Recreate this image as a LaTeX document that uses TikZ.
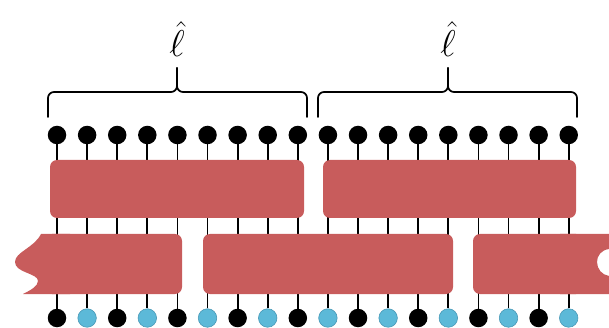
\documentclass[tikz,border=0pt]{standalone}
\definecolor{gatered}{RGB}{200,92,92}
\definecolor{qblue}{RGB}{92,185,216}
\definecolor{qblueedge}{RGB}{72,152,182}
\begin{document}
\begin{tikzpicture}[x=1pt,y=-1pt,
  site/.style={circle,fill=black,inner sep=0pt,minimum size=18.5pt},
  ancilla/.style={site,fill=qblue,draw=qblueedge,line width=0.6pt},
  gatebox/.style={rectangle,fill=gatered,rounded corners=7pt,inner sep=0pt},
  gatefill/.style={fill=gatered},
  leg/.style={line width=1.8pt,black},
  bracepath/.style={line width=1.7pt,rounded corners=6pt,line cap=round},
  hatlabel/.style={font=\Huge,scale=1.5,anchor=base,inner sep=0pt}]
\useasboundingbox (0,0) rectangle (609,328);

% physical sites (top) and bottom sites, alternating black / blue
\foreach \i in {0,...,17}{
  \pgfmathsetmacro{\xx}{57+30.1*\i}
  \node[site] (t\i) at (\xx,135) {};
  \ifodd\i
    \node[ancilla] (b\i) at (\xx,318) {};
  \else
    \node[site] (b\i) at (\xx,318) {};
  \fi
}

% legs running from each top site to the bottom site below it
\foreach \i in {0,...,17}{
  \draw[leg] (t\i) -- (b\i);
}

% upper layer of gates
\node[gatebox,minimum width=254pt,minimum height=58pt] (gu1) at (177,189) {};
\node[gatebox,minimum width=253pt,minimum height=58pt] (gu2) at (449.5,189) {};

% lower layer of gates
\node[gatebox,minimum width=137pt,minimum height=60pt] (gl1) at (113.5,264) {};
\fill[gatefill] (41,234) -- (70,234) -- (70,294) -- (23,294)
  .. controls (31,290) and (38,286) .. (38,281)
  .. controls (38,273) and (15,273) .. (15,262)
  .. controls (15,252) and (34,248) .. (41,234) -- cycle;
\node[gatebox,minimum width=250pt,minimum height=60pt] (gl2) at (328,264) {};
\node[gatebox,minimum width=110pt,minimum height=60pt] (gl3) at (528,264) {};
\fill[gatefill] (560,234) -- (616,234) -- (616,249) -- (609,249)
  .. controls (601,250) and (597,256) .. (597,262)
  .. controls (597,269) and (602,275) .. (609,276)
  -- (616,276) -- (616,294) -- (560,294) -- cycle;

% braces grouping the sites into blocks
\draw[bracepath] (48,117) -- (48,92) -- (177,92) -- (177,68);
\draw[bracepath] (177,68) -- (177,92) -- (307,92) -- (307,117);
\draw[bracepath] (318,117) -- (318,92) -- (448,92) -- (448,68);
\draw[bracepath] (448,68) -- (448,92) -- (577,92) -- (577,117);

% block-length labels
\node[hatlabel] (l1) at (177,57) {$\hat{\ell}$};
\node[hatlabel] (l2) at (448,57) {$\hat{\ell}$};
\end{tikzpicture}
\end{document}
